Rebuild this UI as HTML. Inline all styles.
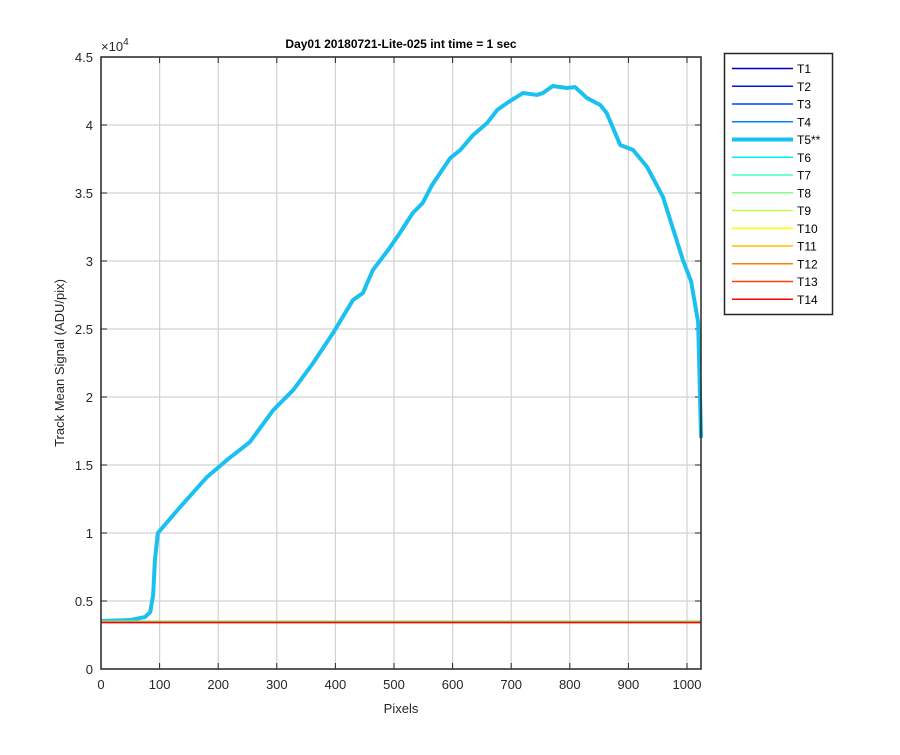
<!DOCTYPE html>
<html><head><meta charset="utf-8"><style>
body{margin:0;background:#fff;font-family:"Liberation Sans",sans-serif}
svg text{font-family:"Liberation Sans",sans-serif}
</style></head><body>
<svg id="c" width="900" height="750" xmlns="http://www.w3.org/2000/svg"></svg>
<script>
const xTicks=[0,100,200,300,400,500,600,700,800,900,1000];
const yTicks=[0,5000,10000,15000,20000,25000,30000,35000,40000,45000];
const yTickLabels=["0","0.5","1","1.5","2","2.5","3","3.5","4","4.5"];
const seriesNames=["T1","T2","T3","T4","T5**","T6","T7","T8","T9","T10","T11","T12","T13","T14"];
const seriesColors=["#0000bf","#0010df","#0040ff","#0080ff","#1ac0f0","#00efff","#40ffbf","#80ff80","#bfff40","#ffff00","#ffbf00","#ff8000","#ff4000","#ff0000"];
const flatX=[0,1024];
const flatLevels=[3430,3440,3450,3460,null,3520,3510,3480,3470,3460,3450,3440,3430,3420];
const t5X=[0,49,75,84,89,92,97,135,181,215,254,294,328,362,396,430,447,464,490,510,532,549,565,596,613,635,659,676,693,720,744,754,771,795,809,829,852,863,886,908,932,959,993,1007,1019,1024];
const t5Y=[3530,3600,3820,4190,5440,8010,10000,11910,14120,15370,16690,19040,20510,22500,24710,27130,27650,29340,30810,32060,33530,34270,35590,37570,38160,39260,40150,41100,41620,42350,42210,42350,42870,42720,42790,41990,41470,40880,38530,38160,36910,34710,30070,28500,25500,17000];
const NS="http://www.w3.org/2000/svg",svg=document.getElementById('c');
const L=101,R=701,T=57,B=669;
const sx=v=>L+v*0.586, sy=v=>B-v*(B-T)/45000;
function el(t,a,p){const e=document.createElementNS(NS,t);for(const k in a)e.setAttribute(k,a[k]);(p||svg).appendChild(e);return e;}
xTicks.forEach(v=>{const g=el('line',{x1:sx(v),x2:sx(v),y1:T,y2:B,stroke:'#d2d2d2','stroke-width':1.2});


const t=el('text',{x:sx(v),y:B+20,'text-anchor':'middle','font-size':13,fill:'#262626'});t.textContent=v;


el('line',{x1:sx(v),x2:sx(v),y1:B,y2:B-6,stroke:'#262626'});el('line',{x1:sx(v),x2:sx(v),y1:T,y2:T+6,stroke:'#262626'});});
yTicks.forEach((v,i)=>{const g=el('line',{x1:L,x2:R,y1:sy(v),y2:sy(v),stroke:'#d2d2d2','stroke-width':1.2});


const t=el('text',{x:L-8,y:sy(v)+5,'text-anchor':'end','font-size':13,fill:'#262626'});t.textContent=yTickLabels[i];


el('line',{x1:L,x2:L+6,y1:sy(v),y2:sy(v),stroke:'#262626'});el('line',{x1:R,x2:R-6,y1:sy(v),y2:sy(v),stroke:'#262626'});});
seriesNames.forEach((n,i)=>{let pts;
if(flatLevels[i]===null) pts=t5X.map((x,j)=>sx(x)+','+sy(t5Y[j])).join(' ');
else pts=flatX.map(x=>sx(x)+','+sy(flatLevels[i])).join(' ');
const p=el('polyline',{points:pts,fill:'none',stroke:seriesColors[i],'stroke-width':flatLevels[i]===null?4:1.5,'stroke-linejoin':'round'});

});
const box=el('rect',{x:L,y:T,width:R-L,height:B-T,fill:'none',stroke:'#262626','stroke-width':1.5});


const lg=el('rect',{x:724.5,y:53.5,width:108,height:261,fill:'#fff',stroke:'#262626','stroke-width':1.5});


seriesNames.forEach((n,i)=>{const y=68.5+i*17.75;
const ln=el('line',{x1:732,x2:793,y1:y,y2:y,stroke:seriesColors[i],'stroke-width':flatLevels[i]===null?4:1.5});


const t=el('text',{x:797,y:y+4.5,'font-size':12,fill:'#000'});t.textContent=n;

});
</script>
<svg width="900" height="750" style="position:absolute;left:0;top:0" xmlns="http://www.w3.org/2000/svg">
<text x="401" y="48" text-anchor="middle" font-size="12" font-weight="bold" fill="#000">Day01 20180721-Lite-025 int time = 1 sec</text>
<text x="101" y="51" font-size="13" fill="#262626">×10<tspan font-size="10" dy="-6">4</tspan></text>
<text x="401" y="713" text-anchor="middle" font-size="13" fill="#262626">Pixels</text>
<text x="64" y="363" text-anchor="middle" font-size="13" fill="#262626" transform="rotate(-90 64 363)">Track Mean Signal (ADU/pix)</text>
</svg>
</body></html>
